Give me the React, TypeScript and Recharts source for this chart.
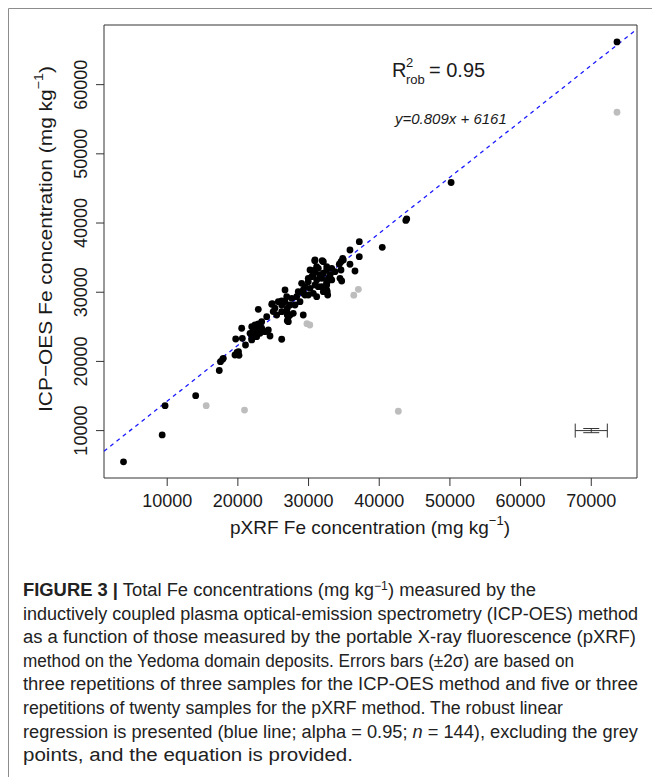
import React from "react"
import { ScatterChart, Scatter, XAxis, YAxis, ReferenceLine, ReferenceArea, ErrorBar } from "recharts"

// pXRF Fe (x) vs ICP-OES Fe (y), mg/kg — points used in the robust fit
const fitPoints: [number, number][] = [
  [3820, 5490], [9290, 9380], [9700, 13610], [14030, 15050], [17370, 18690], [17540, 19960],
  [17850, 20310], [17940, 20450], [19590, 20930], [20160, 20880], [20090, 21400], [19880, 21290],
  [19690, 23240], [20630, 23340], [20540, 24790], [21080, 22370], [21960, 23100],
  [22890, 27530], [24790, 28260], [26200, 28730], [26990, 27680], [26990, 26710], [26990, 25890],
  [24080, 26460], [23370, 25740], [24550, 23670], [26200, 23200],
  [22420, 25260], [22890, 25410], [21960, 25020], [22660, 24790], [22180, 24300], [22890, 24300],
  [23370, 24790], [21720, 24060], [22420, 23820], [21960, 23340], [22660, 23570], [23130, 24060],
  [23840, 24300], [22890, 25020], [24310, 24540],
  [30910, 34660], [32090, 34410], [34590, 34410], [30210, 33210], [30910, 32970], [31380, 33460],
  [32090, 32740], [32570, 33210], [33050, 32490], [33740, 32970], [34590, 33210],
  [29960, 32010], [30450, 32240], [31150, 31770], [31860, 32010], [32570, 31520], [33280, 31770],
  [34450, 32010], [29020, 31290], [29500, 30800], [30210, 30570], [30910, 31050], [31860, 30800],
  [32570, 31050], [28540, 30080], [29250, 29840], [29960, 29600], [31150, 29350], [32090, 30080],
  [26670, 30320], [26910, 29350], [27620, 29120], [28320, 29350], [28790, 28630], [28080, 28150],
  [27380, 28150], [26670, 28630], [26200, 28150], [25720, 28630], [25250, 27680], [25490, 26710],
  [26200, 27190], [26910, 27190], [27140, 26460], [27140, 25740], [27380, 26710], [27840, 26950],
  [29250, 26710], [24870, 28340], [25000, 27200],
  [37180, 37300], [35860, 36100], [37180, 35130], [34830, 34900], [34350, 34040], [35860, 34040],
  [36570, 33070], [34690, 31620], [31140, 33690], [32570, 33690], [33280, 33460], [31620, 32490],
  [30670, 32490], [29960, 31520], [32570, 31290], [31380, 30800], [29250, 30320], [29500, 29600],
  [30670, 29840], [32570, 30320], [32640, 30130], [32710, 29600], [32800, 32010], [34920, 34660],
  [30880, 34560], [31930, 34560], [30760, 33170],
  [40430, 36490], [43760, 40380], [43890, 40580], [50170, 45860], [73640, 66170],
]

// excluded (grey) points
const greyPoints: [number, number][] = [
  [73640, 56010], [37050, 30420], [36400, 29580], [29770, 25450], [30180, 25260],
  [15520, 13610], [20940, 12960], [42700, 12800],
]

// typical +-2 sigma error bars, drawn at (70000, 10000)
const errorRef = [{ x: 70000, y: 10000, ex: 2270, ey: 300 }]

const xTicks = [10000, 20000, 30000, 40000, 50000, 60000, 70000]
const yTicks = [10000, 20000, 30000, 40000, 50000, 60000]
const xDomain: [number, number] = [1060, 76470]
const yDomain: [number, number] = [3150, 68620]

const slope = 0.809
const intercept = 6161

const captionLines = [
  "inductively coupled plasma optical-emission spectrometry (ICP-OES) method",
  "as a function of those measured by the portable X-ray fluorescence (pXRF)",
  "method on the Yedoma domain deposits. Errors bars (\u00b12\u03c3) are based on",
  "three repetitions of three samples for the ICP-OES method and five or three",
  "repetitions of twenty samples for the pXRF method. The robust linear",
]
const captionWidths = [615, 613, 551, 615, 540]

const FONT = "'Liberation Sans', Arial, Helvetica, sans-serif"
const INK = "#1a1a1a"

const toObj = (pts: [number, number][]) => pts.map(([x, y]) => ({ x, y }))

const blackDot = (props: any) => <circle cx={props.cx} cy={props.cy} r={3.4} fill="#000" />
const greyDot = (props: any) => <circle cx={props.cx} cy={props.cy} r={3.4} fill="#bdbdbd" />

const XTick = ({ x, y, payload }: any) => (
  <text x={x} y={y} dy={19} textAnchor="middle" fontSize={18} fill={INK} fontFamily={FONT}>
    {payload.value}
  </text>
)

const YTick = ({ x, y, payload }: any) => (
  <text transform={`translate(${x - 7},${y}) rotate(-90)`} textAnchor="middle" fontSize={18} fill={INK} fontFamily={FONT}>
    {payload.value}
  </text>
)

export default function App() {
  const fitLine = [
    { x: xDomain[0], y: slope * xDomain[0] + intercept },
    { x: xDomain[1], y: slope * xDomain[1] + intercept },
  ]
  const lineY = (i: number) => 596 + i * 23.6

  return (
    <div style={{ position: "absolute", left: 0, top: 0, width: 652, height: 777, background: "#fff" }}>
      <ScatterChart width={652} height={560} margin={{ top: 25, right: 15, left: 44, bottom: 30 }}>
        <XAxis
          type="number"
          dataKey="x"
          domain={xDomain}
          ticks={xTicks}
          allowDataOverflow
          height={52}
          axisLine={false}
          tickSize={8}
          tickLine={{ stroke: "#333" }}
          tick={<XTick />}
        />
        <YAxis
          type="number"
          dataKey="y"
          domain={yDomain}
          ticks={yTicks}
          allowDataOverflow
          width={60}
          axisLine={false}
          tickSize={8}
          tickLine={{ stroke: "#333" }}
          tick={<YTick />}
        />
        <ReferenceLine segment={fitLine} stroke="#1a1aff" strokeWidth={1.3} strokeDasharray="4 4" />
        <Scatter data={toObj(greyPoints)} shape={greyDot} isAnimationActive={false} />
        <Scatter data={toObj(fitPoints)} shape={blackDot} isAnimationActive={false} />
        <Scatter data={errorRef} shape={() => <g />} isAnimationActive={false}>
          <ErrorBar dataKey="ex" direction="x" width={7} stroke="#333" strokeWidth={1} />
          <ErrorBar dataKey="ey" direction="y" width={8} stroke="#333" strokeWidth={1} />
        </Scatter>
        <ReferenceArea x1={xDomain[0]} x2={xDomain[1]} y1={yDomain[0]} y2={yDomain[1]} fill="none" fillOpacity={0} stroke="#333" strokeWidth={1} />
      </ScatterChart>

      <svg width={652} height={777} style={{ position: "absolute", left: 0, top: 0, pointerEvents: "none" }}>
        <line x1={8.5} y1={8.5} x2={652} y2={8.5} stroke="#8c8c8c" />
        <line x1={8.5} y1={8.5} x2={8.5} y2={777} stroke="#8c8c8c" />

        <g fontFamily={FONT} fill={INK}>
          <text x={392} y={77} fontSize={20}>R</text>
          <text x={406} y={67} fontSize={13}>2</text>
          <text x={406} y={84} fontSize={13}>rob</text>
          <text x={429} y={77} fontSize={20}>= 0.95</text>
          <text x={395} y={124} fontSize={15} fontStyle="italic">y=0.809x + 6161</text>

          <text x={230} y={534} fontSize={19} textLength={280} lengthAdjust="spacingAndGlyphs">
            pXRF Fe concentration (mg kg
            <tspan dy={-9} fontSize={13}>{"\u22121"}</tspan>
            <tspan dy={9}>)</tspan>
          </text>
          <text transform="translate(52,412) rotate(-90)" fontSize={19} textLength={346} lengthAdjust="spacingAndGlyphs">
            {"ICP\u2212OES Fe concentration (mg kg"}
            <tspan dy={-9} fontSize={13}>{"\u22121"}</tspan>
            <tspan dy={9}>)</tspan>
          </text>
        </g>

        <g fontFamily={FONT} fill="#222" fontSize={18}>
          <text x={23} y={lineY(0)} textLength={513} lengthAdjust="spacingAndGlyphs">
            <tspan fontWeight="bold">FIGURE 3 |</tspan> Total Fe concentrations (mg kg
            <tspan dy={-6} fontSize={12}>{"\u22121"}</tspan>
            <tspan dy={6}>) measured by the</tspan>
          </text>
          {captionLines.map((line, i) => (
            <text key={i} x={23} y={lineY(i + 1)} textLength={captionWidths[i]} lengthAdjust="spacingAndGlyphs">
              {line}
            </text>
          ))}
          <text x={23} y={lineY(6)} textLength={615} lengthAdjust="spacingAndGlyphs">
            regression is presented (blue line; alpha = 0.95; <tspan fontStyle="italic">n</tspan> = 144), excluding the grey
          </text>
          <text x={23} y={lineY(7)} textLength={330} lengthAdjust="spacingAndGlyphs">
            points, and the equation is provided.
          </text>
        </g>
      </svg>
    </div>
  )
}
